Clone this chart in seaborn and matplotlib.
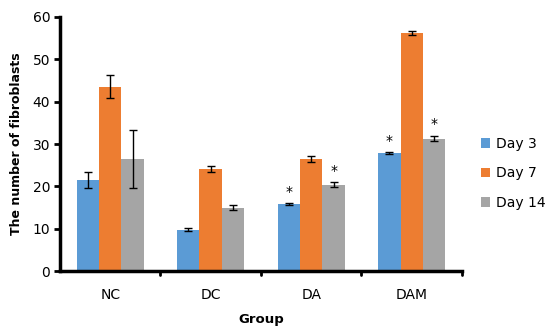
import numpy as np
import pandas as pd
import matplotlib
matplotlib.use("Agg")
import matplotlib.pyplot as plt
import seaborn as sns

# data
groups = ["NC", "DC", "DA", "DAM"]
days = ["Day 3", "Day 7", "Day 14"]
day3 = [21.5, 9.8, 15.8, 27.8]
day7 = [43.5, 24.2, 26.5, 56.2]
day14 = [26.5, 15.0, 20.4, 31.3]
err3 = [1.9, 0.3, 0.3, 0.2]
err7 = [2.7, 0.7, 0.7, 0.4]
err14 = [6.9, 0.5, 0.6, 0.7]
# significance marks (group, day)
stars = [("DA", "Day 3"), ("DA", "Day 14"), ("DAM", "Day 3"), ("DAM", "Day 14")]

colors = ["#5B9BD5", "#ED7D31", "#A5A5A5"]

df = pd.DataFrame({
    "Group": groups * 3,
    "Day": [d for d in days for _ in groups],
    "value": day3 + day7 + day14,
    "err": err3 + err7 + err14,
})

sns.set_style("white", {"axes.edgecolor": "black", "text.color": "black",
                        "xtick.color": "black", "ytick.color": "black",
                        "axes.labelcolor": "black"})
plt.rcParams['font.family'] = ['DejaVu Sans']

fig = plt.figure(figsize=(5.5, 3.33), dpi=100)
ax = fig.add_axes([0.109, 0.186, 0.731, 0.763])

sns.barplot(data=df, x="Group", y="value", hue="Day", order=groups, hue_order=days,
            palette=colors, width=0.67, saturation=1, errorbar=None, linewidth=0,
            gap=0, ax=ax)

# error bars and asterisks, placed on the bar centres
for i, d in enumerate(days):
    cont = ax.containers[i]
    sub = df[df["Day"] == d].set_index("Group").loc[groups]
    xs = [p.get_x() + p.get_width() / 2 for p in cont.patches]
    ax.errorbar(xs, sub["value"], yerr=sub["err"], fmt="none", ecolor="black",
                elinewidth=1, capsize=3, capthick=1)
    for x, g in zip(xs, groups):
        if (g, d) in stars:
            top = sub.loc[g, "value"] + sub.loc[g, "err"]
            ax.text(x, top + 1.0, "*", ha="center", va="bottom", fontsize=10)

ax.set_ylim(0, 60)
ax.set_xlim(-0.5, 3.5)
ax.set_yticks(range(0, 61, 10))
ax.set_xticks(range(4))
ax.set_xticklabels(groups)
ax.tick_params(axis="x", length=0, pad=12, labelsize=10)
ax.tick_params(axis="y", length=4, width=2, direction="out", pad=3, labelsize=10, left=True)
# small marks between the groups on the x axis
for b in [0.5, 1.5, 2.5, 3.5]:
    ax.plot([b, b], [0, -0.9], color="black", lw=2, clip_on=False)

sns.despine(ax=ax)
ax.spines["left"].set_linewidth(2.5)
ax.spines["bottom"].set_linewidth(2.5)

ax.set_xlabel("Group", fontweight="bold", fontsize=9.5, labelpad=8)
ax.set_ylabel("The number of fibroblasts", fontweight="bold", fontsize=9, labelpad=7)

ax.legend(title=None, frameon=False, loc="center left", bbox_to_anchor=(1.015, 0.385),
          fontsize=10, handlelength=0.7, handleheight=0.7, labelspacing=1.1,
          handletextpad=0.4)

fig.savefig("out.png", dpi=100)
